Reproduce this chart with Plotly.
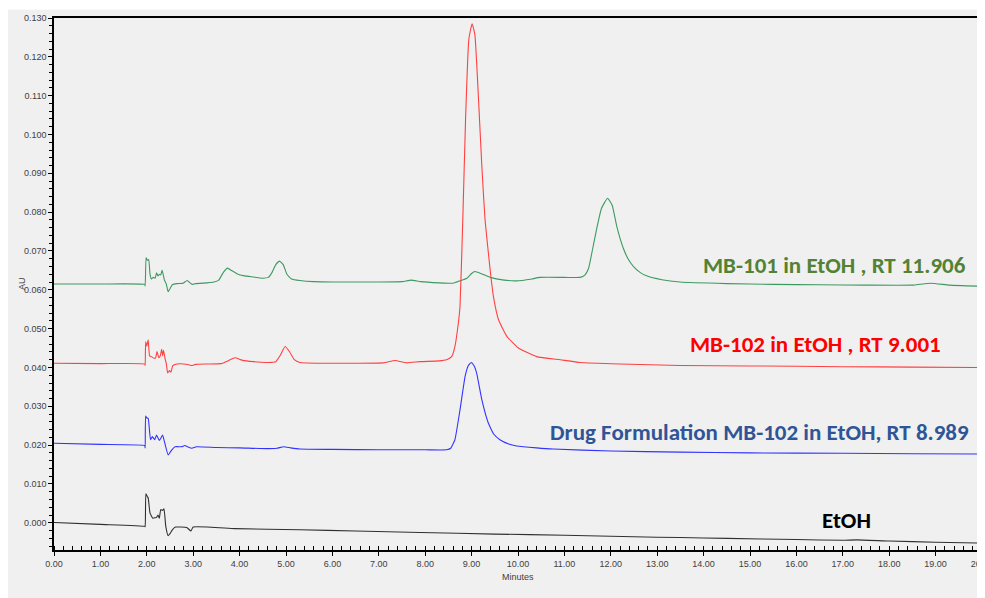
import plotly.graph_objects as go

# ---- data (time in minutes, AU) ----
green_t = [0, 1.0, 1.955, 1.965, 1.985, 2.01, 2.04, 2.07, 2.1, 2.14, 2.18, 2.21, 2.24, 2.27, 2.3, 2.33, 2.36, 2.38,
           2.42, 2.46, 2.5, 2.55, 2.65, 2.78, 2.87, 2.93, 2.98, 3.05, 3.3, 3.45, 3.55, 3.65, 3.74, 3.82, 3.95, 4.1,
           4.3, 4.5, 4.62, 4.7, 4.78, 4.86, 4.94, 5.02, 5.12, 5.3, 5.6, 6.0, 6.5, 7.0, 7.5, 7.7, 7.9, 8.3, 8.6, 8.75,
           8.9, 9.0, 9.07, 9.2, 9.4, 9.7, 9.97, 10.3, 10.47, 11.0, 11.34, 11.44, 11.52, 11.6, 11.69, 11.8, 11.93,
           12.03, 12.13, 12.27, 12.38, 12.49, 12.63, 12.77, 13.1, 13.49, 14.5, 15.5, 16.5, 17.5, 18.5, 18.9, 19.3, 20.0]
green_v = [0.0615, 0.0615, 0.0614, 0.0610, 0.0683, 0.0676, 0.0678, 0.0640, 0.0628, 0.0632, 0.0630, 0.0644, 0.0636,
           0.0640, 0.0638, 0.0650, 0.0636, 0.0625, 0.0615, 0.0595, 0.0603, 0.0613, 0.0616, 0.0617, 0.0624, 0.0618,
           0.0614, 0.0616, 0.0618, 0.0620, 0.0625, 0.0645, 0.0656, 0.0650, 0.0641, 0.0636, 0.0633, 0.0630, 0.0632,
           0.0645, 0.0665, 0.0674, 0.0665, 0.0640, 0.0628, 0.0624, 0.0621, 0.0620, 0.0620, 0.0620, 0.0621, 0.0625,
           0.0621, 0.0618, 0.0617, 0.0623, 0.0630, 0.0642, 0.0647, 0.0642, 0.0632, 0.0625, 0.0623, 0.0628, 0.0632,
           0.0632, 0.0632, 0.0638, 0.0655, 0.0700, 0.0754, 0.0810, 0.0836, 0.0818, 0.0763, 0.0707, 0.0678, 0.0660,
           0.0645, 0.0636, 0.0626, 0.0620, 0.0616, 0.0614, 0.0613, 0.0612, 0.0612, 0.0617, 0.0612, 0.0609]

red_t = [0, 1.0, 1.955, 1.965, 1.975, 2.0, 2.03, 2.06, 2.1, 2.15, 2.19, 2.22, 2.26, 2.29, 2.32, 2.34, 2.36, 2.39,
         2.42, 2.45, 2.49, 2.52, 2.56, 2.65, 2.8, 2.9, 2.97, 3.05, 3.3, 3.6, 3.75, 3.9, 4.05, 4.3, 4.6, 4.78, 4.88,
         4.98, 5.08, 5.18, 5.3, 5.8, 6.5, 7.1, 7.35, 7.6, 7.89, 8.3, 8.46, 8.57, 8.64, 8.71, 8.75, 8.81, 8.87, 8.94,
         9.01, 9.07, 9.15, 9.22, 9.29, 9.40, 9.47, 9.58, 9.76, 10.01, 10.40, 10.91, 11.34, 12.2, 13.49, 15.0, 17.0,
         18.5, 20.0]
red_v = [0.0411, 0.0410, 0.0409, 0.0405, 0.0467, 0.0455, 0.0471, 0.0430, 0.0428, 0.0424, 0.0425, 0.0441, 0.0425,
         0.0430, 0.0447, 0.0430, 0.0444, 0.0425, 0.0410, 0.0386, 0.0392, 0.0388, 0.0405, 0.0409, 0.0409, 0.0407,
         0.0405, 0.0408, 0.0409, 0.0410, 0.0417, 0.0425, 0.0419, 0.0415, 0.0413, 0.0415, 0.0432, 0.0454, 0.0440,
         0.0420, 0.0413, 0.0411, 0.0411, 0.0412, 0.0418, 0.0412, 0.0415, 0.0417, 0.0420, 0.0428, 0.0454, 0.0510,
         0.0557, 0.0780, 0.1040, 0.1245, 0.1285, 0.1258, 0.1089, 0.0920, 0.0780, 0.0651, 0.0583, 0.0523, 0.0480,
         0.0450, 0.0428, 0.0420, 0.0413, 0.0409, 0.0405, 0.0404, 0.0402, 0.0401, 0.0400]

blue_t = [0, 1.0, 1.955, 1.965, 1.975, 2.0, 2.03, 2.08, 2.12, 2.17, 2.21, 2.27, 2.34, 2.38, 2.46, 2.54, 2.61, 2.75,
          2.82, 2.88, 2.97, 3.07, 3.5, 4.0, 4.6, 4.8, 4.95, 5.1, 5.3, 6.0, 7.0, 8.0, 8.46, 8.55, 8.64, 8.75, 8.86,
          8.93, 8.99, 9.05, 9.11, 9.22, 9.36, 9.48, 9.61, 9.8, 9.97, 10.4, 10.76, 12.0, 13.49, 15.0, 17.0, 18.5, 20.0]
blue_v = [0.0205, 0.0202, 0.0199, 0.0193, 0.0275, 0.0270, 0.0269, 0.0214, 0.0222, 0.0214, 0.0226, 0.0212, 0.0226,
          0.0209, 0.0175, 0.0188, 0.0196, 0.0196, 0.0199, 0.0196, 0.0192, 0.0196, 0.0194, 0.0193, 0.0191, 0.0192,
          0.0196, 0.0193, 0.0190, 0.0189, 0.0188, 0.0188, 0.0188, 0.0192, 0.0214, 0.0291, 0.0377, 0.0405, 0.0413,
          0.0405, 0.0385, 0.0317, 0.0257, 0.0228, 0.0214, 0.0203, 0.0198, 0.0193, 0.0190, 0.0185, 0.0182, 0.0180,
          0.0179, 0.0178, 0.0177]

black_t = [0, 1.0, 1.955, 1.965, 1.98, 2.01, 2.03, 2.07, 2.13, 2.18, 2.21, 2.24, 2.27, 2.3, 2.34, 2.37, 2.41, 2.46,
           2.5, 2.55, 2.62, 2.86, 2.95, 3.0, 3.9, 5.3, 6.5, 7.89, 9.5, 11.0, 12.5, 13.49, 14.5, 16.0, 17.0, 17.3,
           18.0, 19.0, 20.0]
black_v = [0.0001, -0.0004, -0.0009, -0.0010, 0.0075, 0.0068, 0.0064, 0.0025, 0.0012, 0.0013, 0.0014, 0.0020,
           0.0012, 0.0034, 0.0032, 0.0036, -0.0010, -0.0033, -0.0028, -0.0018, -0.0011, -0.0012, -0.0021, -0.0011,
           -0.0015, -0.0018, -0.0021, -0.0025, -0.0029, -0.0032, -0.0036, -0.0038, -0.0040, -0.0043, -0.0045,
           -0.0044, -0.0047, -0.0050, -0.0052]

labels = ["MB-101 in EtOH , RT 11.906", "MB-102 in EtOH , RT 9.001",
          "Drug Formulation MB-102 in EtOH, RT 8.989", "EtOH"]
label_x = [19.70, 19.15, 19.76, 17.08]
label_y = [0.0664, 0.0461, 0.0234, 0.0008]
label_anchor = ["right", "right", "right", "center"]
label_colors = ["#548235", "#ff0000", "#2f5597", "#000000"]

y_ticks = [round(0.01 * i, 3) for i in range(14)]
x_ticks = list(range(21))

fig = go.Figure()
series = [(green_t, green_v, "#3c9a60"), (red_t, red_v, "#ff4040"),
          (blue_t, blue_v, "#3333ff"), (black_t, black_v, "#303030")]
for t, v, c in series:
    fig.add_trace(go.Scatter(x=t, y=v, mode="lines",
                             line=dict(color=c, width=1.1, shape="spline", smoothing=0.4),
                             showlegend=False, hoverinfo="skip"))

for txt, lx, ly, anc, col in zip(labels, label_x, label_y, label_anchor, label_colors):
    fig.add_annotation(x=lx, y=ly, xref="x", yref="y", text="<b>%s</b>" % txt, showarrow=False,
                       xanchor=anc, yanchor="middle",
                       font=dict(family="Carlito, Lato, Open Sans, sans-serif", size=23, color=col))

tick_font = dict(family="Liberation Sans Narrow, Arial Narrow, Liberation Sans, Arial, sans-serif",
                 size=9, color="#404040")

fig.add_annotation(x=-0.0345, y=0.502, xref="paper", yref="paper", text="AU", textangle=-90,
                   xanchor="center", yanchor="middle", showarrow=False, font=tick_font)
fig.add_annotation(x=0.5, y=-0.0508, xref="paper", yref="paper", text="Minutes",
                   xanchor="center", yanchor="middle", showarrow=False, font=tick_font)

# thin white strip at the very top of the grey canvas
fig.add_shape(type="rect", xref="paper", yref="paper", x0=-0.2, x1=1.2, y0=1.0155, y1=1.05,
              fillcolor="#ffffff", line=dict(width=0), layer="below")
# right frame line
fig.add_shape(type="line", xref="paper", yref="paper", x0=1.0, x1=1.0, y0=0, y1=1,
              line=dict(color="#555555", width=1))
for y0, y1 in [(0.517, 0.568), (0.3628, 0.4135), (0.1936, 0.248)]:
    fig.add_shape(type="line", xref="paper", yref="paper", x0=1.0025, x1=1.0025, y0=y0, y1=y1,
                  line=dict(color="#000000", width=2))

fig.update_layout(
    width=977, height=590,
    margin=dict(l=46, r=3, t=10, b=48),
    paper_bgcolor="#f0f0f0", plot_bgcolor="#f0f0f0",
    xaxis=dict(range=[0, 20], tickvals=x_ticks, tickformat=".2f", showgrid=False, zeroline=False,
               automargin=False, ticklabeloverflow="allow",
               showline=True, linecolor="#000000", linewidth=1.5, mirror=True,
               ticks="outside", ticklen=4, tickcolor="#000000", tickfont=tick_font,
               minor=dict(dtick=0.2, ticks="inside", ticklen=4, tickcolor="#000000")),
    yaxis=dict(range=[-0.007, 0.130], tickvals=y_ticks, tickformat=".3f", showgrid=False, zeroline=False,
               automargin=False, ticklabeloverflow="allow",
               showline=True, linecolor="#000000", linewidth=1.5,
               ticks="outside", ticklen=4, tickcolor="#000000", tickfont=tick_font,
               minor=dict(dtick=0.002, tick0=0, ticks="outside", ticklen=3, tickcolor="#000000")),
)

fig.write_html("out.html")
